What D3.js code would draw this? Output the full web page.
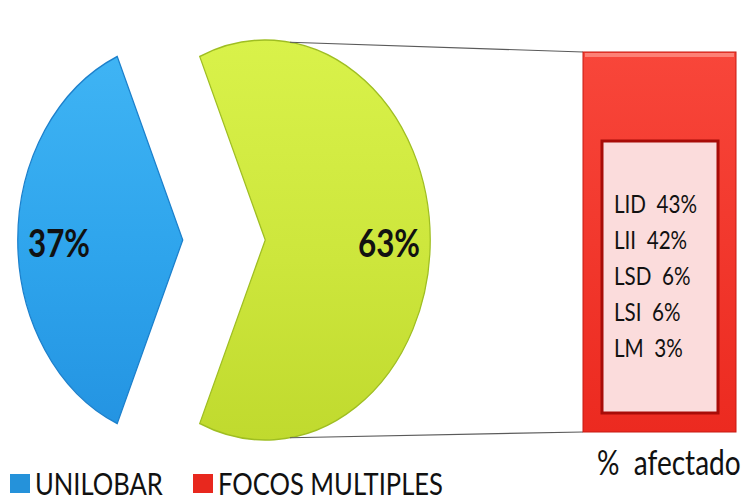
<!DOCTYPE html>
<html>
<head>
<meta charset="utf-8">
<script src="https://cdn.jsdelivr.net/npm/d3@7"></script>
<style>
  body { margin: 0; background: #fff; }
  text { font-family: Lato, "Open Sans", sans-serif; fill: #111; }
</style>
</head>
<body>
<svg id="chart" width="750" height="502"></svg>
<script>
// pie data
let categories = ["UNILOBAR", "FOCOS MULTIPLES"],
	shares = [37, 63],
	legendColors = ["#2592da", "#e8281e"];

// breakdown of the multiple foci (bar)
let lobes = ["LID", "LII", "LSD", "LSI", "LM"],
	lobeShares = [43, 42, 6, 6, 3],
	barLabel = "%  afectado";

let svg = d3.select("svg#chart"),
	sx = 0.825,                 // picture is squeezed horizontally
	cx = 224, cy = 240,
	radius = 200,
	explode = 50;

let defs = svg.append("defs");

let gBlue = defs.append("linearGradient").attr("id", "gBlue").attr("x1", 0).attr("y1", 0).attr("x2", 0).attr("y2", 1);
gBlue.append("stop").attr("offset", "0%").attr("stop-color", "#3fb4f4");
gBlue.append("stop").attr("offset", "55%").attr("stop-color", "#2ea4ec");
gBlue.append("stop").attr("offset", "100%").attr("stop-color", "#2494e2");

let gGreen = defs.append("linearGradient").attr("id", "gGreen").attr("x1", 0).attr("y1", 0).attr("x2", 0).attr("y2", 1);
gGreen.append("stop").attr("offset", "0%").attr("stop-color", "#d9f24a");
gGreen.append("stop").attr("offset", "55%").attr("stop-color", "#cde63c");
gGreen.append("stop").attr("offset", "100%").attr("stop-color", "#c0da2e");

let gRed = defs.append("linearGradient").attr("id", "gRed").attr("x1", 0).attr("y1", 0).attr("x2", 0).attr("y2", 1);
gRed.append("stop").attr("offset", "0%").attr("stop-color", "#f8463a");
gRed.append("stop").attr("offset", "100%").attr("stop-color", "#ec2a20");

let fills = ["url(#gBlue)", "url(#gGreen)"],
	edges = ["#1c80cc", "#9fbe22"];

// pie, blue slice centred on the west side
let start = -Math.PI / 2 - Math.PI * shares[0] / 100;
let pie = d3.pie().sort(null).value(d => d).startAngle(start).endAngle(start + 2 * Math.PI);
let arcs = pie(shares);

let arc = d3.arc().innerRadius(0).outerRadius(radius);
let labelArc = d3.arc().innerRadius(150).outerRadius(150);

function offset(d) {
	let mid = (d.startAngle + d.endAngle) / 2;
	return [Math.sin(mid) * explode, -Math.cos(mid) * explode];
}

let g = svg.append("g").attr("transform", "translate(" + cx + "," + cy + ") scale(" + sx + ",1)");

g.selectAll("path.slice")
	.data(arcs)
	.enter().append("path")
	.attr("class", "slice")
	.attr("transform", d => "translate(" + offset(d) + ")")
	.attr("d", arc)
	.attr("fill", (d, i) => fills[i])
	.attr("stroke", (d, i) => edges[i])
	.attr("stroke-width", 1.5);

// squeezed text helper
function sText(sel, x, y, str, size, weight, anchor) {
	return sel.append("text")
		.attr("transform", "translate(" + x + "," + y + ") scale(" + sx + ",1)")
		.attr("text-anchor", anchor || "start")
		.style("font-size", size + "px")
		.style("font-weight", weight || 400)
		.style("white-space", "pre")
		.text(str);
}

arcs.forEach(function(d) {
	let c = labelArc.centroid(d), o = offset(d);
	sText(svg, cx + (c[0] + o[0]) * sx, cy + c[1] + o[1] + 17, d.value + "%", 38, 700, "middle");
});

// bar for the multiple foci
let xBar = d3.scaleBand().domain([categories[1]]).range([583, 736]).padding(0);
let yBar = d3.scaleLinear().domain([0, shares[1]]).range([432, 52]);

// connector lines from the green slice to the bar
let green = arcs[1], go = offset(green);
[0.15, Math.PI - 0.15].forEach(function(a, i) {
	let px = cx + (go[0] + radius * Math.sin(a)) * sx,
		py = cy + go[1] - radius * Math.cos(a);
	svg.append("line")
		.attr("x1", px).attr("y1", py)
		.attr("x2", xBar(categories[1])).attr("y2", i === 0 ? yBar(shares[1]) : yBar(0))
		.attr("stroke", "#5a5a5a").attr("stroke-width", 1.2);
});

svg.append("rect")
	.attr("x", xBar(categories[1]))
	.attr("y", yBar(shares[1]))
	.attr("width", xBar.bandwidth())
	.attr("height", yBar(0) - yBar(shares[1]))
	.attr("fill", "url(#gRed)")
	.attr("stroke", "#c81a12").attr("stroke-width", 1);

// bevel highlight on bar top
svg.append("rect")
	.attr("x", xBar(categories[1]) + 2).attr("y", yBar(shares[1]) + 1)
	.attr("width", xBar.bandwidth() - 4).attr("height", 4)
	.attr("fill", "#ff9a90").attr("opacity", 0.7);

// breakdown box
let box = { x: 602, y: 141, w: 116, h: 272 };
svg.append("rect")
	.attr("x", box.x).attr("y", box.y).attr("width", box.w).attr("height", box.h)
	.attr("fill", "#fbdcdc").attr("stroke", "#a80c08").attr("stroke-width", 3);

lobes.forEach(function(l, i) {
	sText(svg, 614, 213 + i * 36, l + "  " + lobeShares[i] + "%", 25, 400);
});

sText(svg, 597, 475, barLabel, 34, 400);

// legend
let legendX = [10, 193];
categories.forEach(function(c, i) {
	svg.append("rect")
		.attr("x", legendX[i]).attr("y", 474).attr("width", 20).attr("height", 19)
		.attr("fill", legendColors[i]);
	sText(svg, legendX[i] + 25, 495, c, 31, 400);
});
</script>
</body>
</html>
